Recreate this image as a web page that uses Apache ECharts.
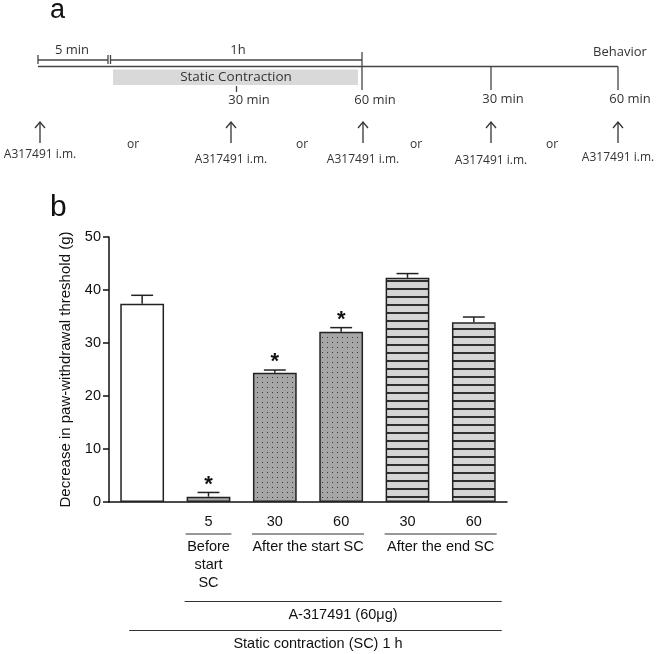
<!DOCTYPE html>
<html>
<head>
<meta charset="utf-8">
<script src="https://cdn.jsdelivr.net/npm/echarts@6/dist/echarts.min.js"></script>
<style>
  html, body { margin: 0; padding: 0; background: #fff; }
  #main { width: 657px; height: 654px; }
</style>
</head>
<body>
<div id="main"></div>
<script>
  // data of panel b
  const categories = ['', '5', '30', '60', '30', '60']
  const means = [37.4, 1.0, 24.4, 32.1, 42.3, 33.9]
  const sems = [1.6, 0.8, 0.5, 0.8, 0.8, 1.0]
  const significant = [false, true, true, true, false, false]
  const barStyles = ['open', 'dots', 'dots', 'dots', 'lines', 'lines']
  const yTicks = { min: 0, max: 50, step: 10 }

  // group labels under the x axis (category index ranges)
  const groups = [
    { text: 'Before\nstart\nSC', from: 1, to: 1 },
    { text: 'After the start SC', from: 2, to: 3 },
    { text: 'After the end SC', from: 4, to: 5 }
  ]
  const drugLabel = 'A-317491 (60\u03bcg)'
  const scLabel = 'Static contraction (SC) 1 h'

  // panel a timeline labels
  const injectLabel = 'A317491 i.m.'
  const arrowX = [40, 231, 363, 491, 618]
  const orX = [133, 302, 416, 552]

  function makePattern(kind) {
    const c = document.createElement('canvas')
    if (kind === 'dots') {
      c.width = 5; c.height = 5
      const g = c.getContext('2d')
      g.fillStyle = '#a6a6a6'
      g.fillRect(0, 0, 5, 5)
      g.fillStyle = '#3a3a3a'
      g.fillRect(2, 2, 1, 1)
    } else {
      c.width = 8; c.height = 8
      const g = c.getContext('2d')
      g.fillStyle = '#d4d4d4'
      g.fillRect(0, 0, 8, 8)
      g.fillStyle = '#2e2e2e'
      g.fillRect(0, 0, 8, 2)
    }
    return { image: c, repeat: 'repeat' }
  }

  const fills = {
    open: '#ffffff',
    dots: makePattern('dots'),
    lines: makePattern('lines')
  }

  const font = 'Liberation Sans, Arial, sans-serif'
  const fontA = 'Open Sans, sans-serif'

  function txt(x, y, s, size, align, extra) {
    return Object.assign({
      type: 'text', x: x, y: y,
      style: { text: s, fontSize: size, fontFamily: fontA, fill: '#333', align: align || 'center', verticalAlign: 'middle' }
    }, extra || {})
  }
  function ln(x1, y1, x2, y2, w, color) {
    return { type: 'line', shape: { x1: x1, y1: y1, x2: x2, y2: y2 }, style: { stroke: color || '#444', lineWidth: w || 1.3 } }
  }

  // panel a, a schematic drawn with graphic elements
  function timeline() {
    const els = []
    els.push({ type: 'text', x: 50, y: 11, style: { text: 'a', fontSize: 27, fontFamily: font, fill: '#111', align: 'left', verticalAlign: 'middle' } })
    // 5 min bracket
    els.push(ln(38, 60, 108, 60))
    els.push(ln(38, 55, 38, 64))
    els.push(ln(108, 55, 108, 64))
    els.push(ln(110.5, 55, 110.5, 64))
    els.push(txt(72, 50, '5 min', 13))
    // 1h bracket
    els.push(ln(110.5, 60, 362, 60))
    els.push(ln(362, 52, 362, 90))
    els.push(txt(238, 50, '1h', 13))
    // main line
    els.push(ln(38, 66.5, 618, 66.5))
    els.push({ type: 'rect', shape: { x: 113, y: 69.5, width: 245, height: 15.5 }, style: { fill: '#d9d9d9' } })
    els.push(txt(236, 77.5, 'Static Contraction', 13.5))
    els.push(ln(236.5, 86, 236.5, 92))
    els.push(ln(491, 66.5, 491, 90))
    els.push(ln(618, 66.5, 618, 90))
    els.push(txt(249, 100, '30 min', 13))
    els.push(txt(375, 100, '60 min', 13))
    els.push(txt(503, 99, '30 min', 13))
    els.push(txt(630, 99, '60 min', 13))
    els.push(txt(620, 52.5, 'Behavior', 13))
    const labelY = [155, 160, 160, 161, 158]
    arrowX.forEach(function (x, i) {
      els.push(ln(x, 122, x, 143, 1.3, '#333'))
      els.push({ type: 'polyline', shape: { points: [[x - 5, 128], [x, 122], [x + 5, 128]] }, style: { stroke: '#333', lineWidth: 1.3, fill: null } })
      els.push(txt(x, labelY[i], injectLabel, 12))
    })
    orX.forEach(function (x) { els.push(txt(x, 145, 'or', 12)) })
    return els
  }

  const main = document.getElementById('main')
  const myechart = echarts.init(main)

  const barData = means.map(function (v, i) {
    return {
      value: v,
      itemStyle: { color: fills[barStyles[i]] }
    }
  })
  const errData = means.map(function (v, i) {
    return [i, v, v + sems[i], significant[i] ? 1 : 0]
  })

  const option = {
    animation: false,
    grid: { left: 109, right: 150, top: 237, bottom: 152 },
    xAxis: {
      type: 'category',
      data: categories,
      axisLine: { lineStyle: { color: '#111', width: 1.5 } },
      axisTick: { alignWithLabel: true, length: 6, lineStyle: { color: '#111', width: 1.5 } },
      axisLabel: { color: '#111', fontSize: 14.5, fontFamily: font, margin: 12 }
    },
    yAxis: {
      type: 'value',
      min: yTicks.min,
      max: yTicks.max,
      interval: yTicks.step,
      name: 'Decrease in paw-withdrawal threshold (g)',
      nameLocation: 'middle',
      nameGap: 36,
      nameTextStyle: { color: '#111', fontSize: 15, fontFamily: font },
      splitLine: { show: false },
      axisLine: { show: true, lineStyle: { color: '#111', width: 1.5 } },
      axisTick: { show: true, length: 6, lineStyle: { color: '#111', width: 1.5 } },
      axisLabel: { color: '#111', fontSize: 14.5, fontFamily: font, margin: 8 }
    },
    series: [
      {
        type: 'bar',
        data: barData,
        barCategoryGap: '34%',
        itemStyle: { borderColor: '#222', borderWidth: 1.5 },
        z: 2
      },
      {
        type: 'custom',
        data: errData,
        z: 3,
        renderItem: function (params, api) {
          const base = api.coord([api.value(0), api.value(1)])
          const top = api.coord([api.value(0), api.value(2)])
          const half = api.size([1, 0])[0] * 0.165
          const children = [
            { type: 'line', shape: { x1: base[0], y1: base[1], x2: top[0], y2: top[1] }, style: { stroke: '#222', lineWidth: 1.5 } },
            { type: 'line', shape: { x1: top[0] - half, y1: top[1], x2: top[0] + half, y2: top[1] }, style: { stroke: '#222', lineWidth: 1.5 } }
          ]
          if (api.value(3)) {
            children.push({ type: 'text', x: top[0], y: top[1] - 8, style: { text: '*', fontSize: 22, fontWeight: 'bold', fontFamily: font, fill: '#111', align: 'center', verticalAlign: 'middle' } })
          }
          return { type: 'group', children: children }
        }
      }
    ]
  }
  myechart.setOption(option)

  // labels under the x axis, placed from the axis scale
  const cx = function (i) { return myechart.convertToPixel({ xAxisIndex: 0 }, i) }
  const barHalf = (cx(1) - cx(0)) * 0.33
  const els = timeline()
  els.push({ type: 'text', x: 50, y: 208, style: { text: 'b', fontSize: 30, fontFamily: font, fill: '#111', align: 'left', verticalAlign: 'middle' } })
  const labelStyle = { fontSize: 14.5, fontFamily: font, fill: '#111', align: 'center' }
  groups.forEach(function (g) {
    const x1 = cx(g.from) - barHalf - 1
    const x2 = cx(g.to) + barHalf + 1
    els.push(ln(x1, 534, x2, 534, 1.2, '#333'))
    els.push({ type: 'text', x: (x1 + x2) / 2, y: 538, style: Object.assign({ text: g.text, verticalAlign: 'top', lineHeight: 18 }, labelStyle) })
  })
  els.push(ln(cx(1) - barHalf - 2, 601.5, cx(5) + barHalf + 6, 601.5, 1.2, '#333'))
  els.push({ type: 'text', x: 343, y: 615, style: Object.assign({ text: drugLabel, verticalAlign: 'middle' }, labelStyle) })
  els.push(ln(cx(0) - 13, 630.5, cx(5) + barHalf + 6, 630.5, 1.2, '#333'))
  els.push({ type: 'text', x: 318, y: 644, style: Object.assign({ text: scLabel, verticalAlign: 'middle' }, labelStyle) })
  myechart.setOption({ graphic: els })
</script>
</body>
</html>
